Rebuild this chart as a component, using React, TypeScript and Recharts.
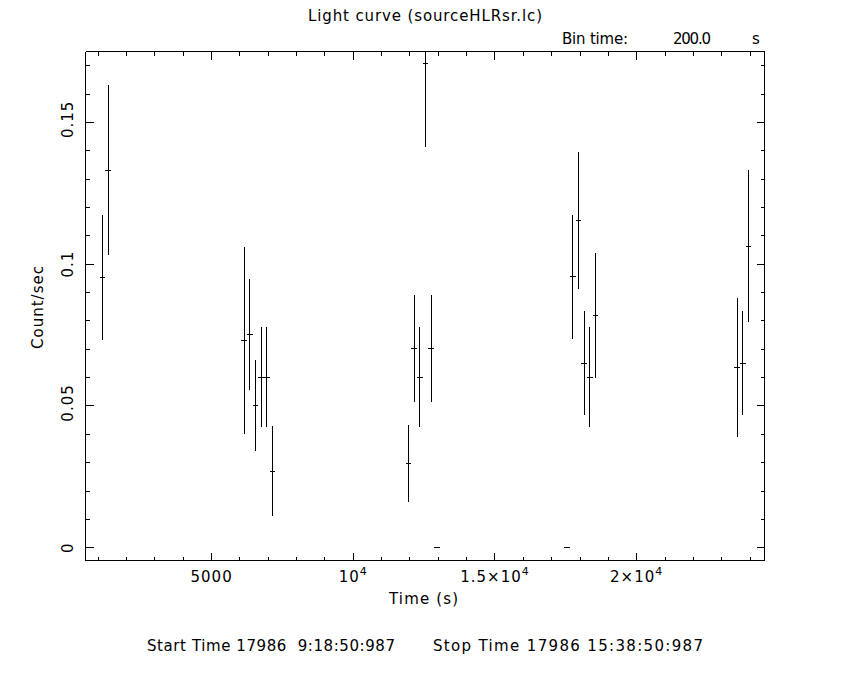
import React from 'react';
import { ScatterChart, Scatter, XAxis, YAxis, ErrorBar } from 'recharts';

// ---- data ----
const times = [1150, 1350, 6150, 6350, 6550, 6750, 6950, 7150, 11950, 12150, 12350, 12550, 12750, 12950, 17550, 17750, 17950, 18150, 18350, 18550, 23550, 23750, 23950];
const rates = [0.0953, 0.1332, 0.0732, 0.0752, 0.0502, 0.0602, 0.0602, 0.027, 0.0298, 0.0703, 0.0601, 0.1708, 0.0703, 0, 0, 0.0955, 0.1154, 0.0651, 0.0601, 0.0819, 0.0636, 0.0651, 0.1063];
const rateErrors = [0.022, 0.03, 0.033, 0.0195, 0.016, 0.0176, 0.0176, 0.0158, 0.0136, 0.0189, 0.0176, 0.0294, 0.0189, 0, 0, 0.022, 0.024, 0.0183, 0.0176, 0.022, 0.0244, 0.0183, 0.0268];
const binHalfWidth = 100;

const xMajorTicks = [5000, 10000, 15000, 20000];
const xTickLabels = ['5000', '10^4', '1.5\u00d710^4', '2\u00d710^4'];
const xAllTicks = [1000, 2000, 3000, 4000, 5000, 6000, 7000, 8000, 9000, 10000, 11000, 12000, 13000, 14000, 15000, 16000, 17000, 18000, 19000, 20000, 21000, 22000, 23000, 24000];
const yMajorTicks = [0, 0.05, 0.1, 0.15];
const yTickLabels = ['0', '0.05', '0.1', '0.15'];
const yAllTicks = [0, 0.01, 0.02, 0.03, 0.04, 0.05, 0.06, 0.07, 0.08, 0.09, 0.1, 0.11, 0.12, 0.13, 0.14, 0.15, 0.16, 0.17];

const xDomain = [550, 24510];
const yDomain = [-0.0045, 0.175];

const data = times.map((t, i) => ({ t, rate: rates[i], rerr: rateErrors[i], terr: binHalfWidth }));

// error bars are clipped to the plotting frame (the frame top is yDomain[1])
const clippedRateError = (d: any) => [d.rerr, Math.max(0, Math.min(d.rerr, yDomain[1] - d.rate))];

const FONT = "'DejaVu Sans', 'Liberation Sans', sans-serif";
const FS = 15;
const LS = 1;

function isMajor(list: number[], v: number) {
  return list.findIndex((m) => Math.abs(m - v) < 1e-9);
}

function renderPow(label: string, x: number, y: number) {
  const parts = label.split('^');
  return (
    <text x={x} y={y} textAnchor="middle" fontSize={FS} fontFamily={FONT} fill="#000" letterSpacing={LS}>
      {parts[0]}
      {parts[1] ? (
        <tspan dy={-7} fontSize={11}>
          {parts[1]}
        </tspan>
      ) : null}
    </text>
  );
}

function BottomTick(props: any) {
  const { x, y, payload } = props;
  const idx = isMajor(xMajorTicks, payload.value);
  const len = idx >= 0 ? 8 : 4;
  return (
    <g>
      <line x1={x} x2={x} y1={y} y2={y - len} stroke="#000" strokeWidth={1} />
      {idx >= 0 ? renderPow(xTickLabels[idx], x, y + 21.5) : null}
    </g>
  );
}

function TopTick(props: any) {
  const { x, y, payload } = props;
  const idx = isMajor(xMajorTicks, payload.value);
  const len = idx >= 0 ? 8 : 4;
  return <line x1={x} x2={x} y1={y} y2={y + len} stroke="#000" strokeWidth={1} />;
}

function LeftTick(props: any) {
  const { x, y, payload } = props;
  const idx = isMajor(yMajorTicks, payload.value);
  const len = idx >= 0 ? 8 : 4;
  const lx = 73;
  const ly = y - (yTickLabels[idx] && yTickLabels[idx].length > 3 ? 3 : 0);
  return (
    <g>
      <line x1={x} x2={x + len} y1={y} y2={y} stroke="#000" strokeWidth={1} />
      {idx >= 0 ? (
        <text
          x={lx}
          y={ly}
          textAnchor="middle"
          fontSize={FS}
          fontFamily={FONT}
          letterSpacing={LS}
          fill="#000"
          transform={`rotate(-90 ${lx} ${ly})`}
        >
          {yTickLabels[idx]}
        </text>
      ) : null}
    </g>
  );
}

function RightTick(props: any) {
  const { x, y, payload } = props;
  const idx = isMajor(yMajorTicks, payload.value);
  const len = idx >= 0 ? 8 : 4;
  return <line x1={x} x2={x - len} y1={y} y2={y} stroke="#000" strokeWidth={1} />;
}

const NoShape = () => <g />;

const textStyle: any = { whiteSpace: 'pre' };

export default function App() {
  return (
    <div style={{ position: 'absolute', left: 0, top: 0, width: 850, height: 680, background: '#fff' }}>
      <style>{'.recharts-wrapper line, .recharts-wrapper path { shape-rendering: crispEdges; }'}</style>
      <ScatterChart width={850} height={680} margin={{ top: 50.5, right: 84.5, bottom: 89.5, left: 0 }}>
        <XAxis
          xAxisId="b"
          orientation="bottom"
          type="number"
          dataKey="t"
          domain={xDomain}
          allowDataOverflow
          ticks={xAllTicks}
          interval={0}
          tickSize={0}
          tickMargin={0}
          tickLine={false}
          tick={<BottomTick />}
          height={30}
          axisLine={{ stroke: '#000', strokeWidth: 1 }}
        />
        <XAxis
          xAxisId="t"
          orientation="top"
          type="number"
          dataKey="t"
          domain={xDomain}
          allowDataOverflow
          ticks={xAllTicks}
          interval={0}
          tickSize={0}
          tickMargin={0}
          tickLine={false}
          tick={<TopTick />}
          height={1}
          axisLine={{ stroke: '#000', strokeWidth: 1 }}
        />
        <YAxis
          yAxisId="l"
          orientation="left"
          type="number"
          dataKey="rate"
          domain={yDomain}
          allowDataOverflow
          ticks={yAllTicks}
          interval={0}
          tickSize={0}
          tickMargin={0}
          tickLine={false}
          tick={<LeftTick />}
          width={85.5}
          axisLine={{ stroke: '#000', strokeWidth: 1 }}
        />
        <YAxis
          yAxisId="r"
          orientation="right"
          type="number"
          dataKey="rate"
          domain={yDomain}
          allowDataOverflow
          ticks={yAllTicks}
          interval={0}
          tickSize={0}
          tickMargin={0}
          tickLine={false}
          tick={<RightTick />}
          width={1}
          axisLine={{ stroke: '#000', strokeWidth: 1 }}
        />
        <Scatter
          data={data}
          xAxisId="b"
          yAxisId="l"
          dataKey="rate"
          shape={NoShape}
          isAnimationActive={false}
        >
          <ErrorBar dataKey={clippedRateError} direction="y" width={0} stroke="#000" strokeWidth={1} isAnimationActive={false} />
          <ErrorBar dataKey="terr" direction="x" width={0} stroke="#000" strokeWidth={1} isAnimationActive={false} />
        </Scatter>
        <Scatter
          data={data}
          xAxisId="t"
          yAxisId="r"
          dataKey="rate"
          shape={NoShape}
          isAnimationActive={false}
        />
      </ScatterChart>
      <svg
        width={850}
        height={680}
        style={{ position: 'absolute', left: 0, top: 0, pointerEvents: 'none' }}
      >
        <text x={425} y={21} textAnchor="middle" fontSize={FS} fontFamily={FONT} fill="#000" textLength={234} lengthAdjust="spacing">
          Light curve (sourceHLRsr.lc)
        </text>
        <text x={562} y={44} fontSize={FS} fontFamily={FONT} fill="#000" textLength={66} lengthAdjust="spacing">
          Bin time:
        </text>
        <text x={673} y={44} fontSize={FS} fontFamily={FONT} fill="#000" textLength={38} lengthAdjust="spacing">
          200.0
        </text>
        <text x={752} y={44} fontSize={FS} fontFamily={FONT} fill="#000">
          s
        </text>
        <text x={423.5} y={604} textAnchor="middle" fontSize={FS} fontFamily={FONT} fill="#000" textLength={69} lengthAdjust="spacing">
          Time (s)
        </text>
        <text
          x={43}
          y={307}
          textAnchor="middle"
          fontSize={FS}
          fontFamily={FONT}
          fill="#000"
          letterSpacing={LS}
          transform="rotate(-90 43 307)"
        >
          Count/sec
        </text>
        <text x={147} y={651} fontSize={FS} fontFamily={FONT} fill="#000" style={textStyle} textLength={248} lengthAdjust="spacing">
          Start Time 17986  9:18:50:987
        </text>
        <text x={433} y={651} fontSize={FS} fontFamily={FONT} fill="#000" style={textStyle} textLength={270} lengthAdjust="spacing">
          Stop Time 17986 15:38:50:987
        </text>
      </svg>
    </div>
  );
}
